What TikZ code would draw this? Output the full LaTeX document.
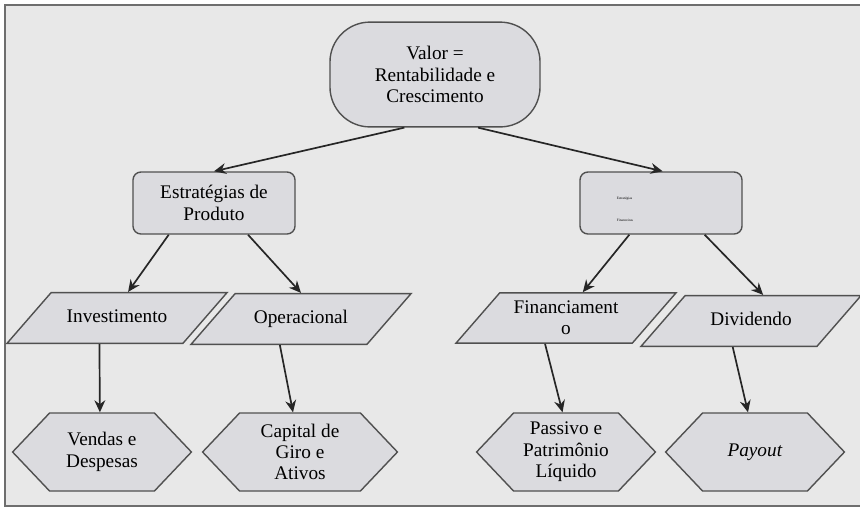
\documentclass[tikz,border=0pt]{standalone}
\usepackage{fontspec}
\setmainfont{Liberation Serif}
\usetikzlibrary{shapes.geometric,shapes.symbols,arrows.meta}

\definecolor{framebg}{HTML}{E8E8E8}
\definecolor{boxfill}{HTML}{DBDBDF}
\definecolor{boxline}{HTML}{505050}
\definecolor{frameline}{HTML}{6E6E6E}

\tikzset{
  boxtext/.style={font=\fontsize{13.7}{15.2}\selectfont, align=center},
  goal/.style={boxtext, draw=boxline, fill=boxfill, line width=1pt, rounded corners=1cm,
    minimum width=5.25cm, minimum height=2.62cm},
  strat/.style={boxtext, draw=boxline, fill=boxfill, line width=1pt, rounded corners=0.2cm,
    minimum width=4.05cm, minimum height=1.55cm},
  areabase/.style={boxtext, trapezium, trapezium left angle=49, trapezium right angle=131,
    trapezium stretches body, draw=boxline, fill=boxfill, line width=1pt,
    minimum width=5.5cm, inner xsep=0pt},
  area/.style={areabase, text height=9.6pt, text depth=3pt, inner ysep=11.75pt},
  driver/.style={boxtext, signal, signal to=west and east, signal pointer angle=93,
    draw=boxline, fill=boxfill, line width=1pt, minimum width=4.47cm, minimum height=1.95cm,
    inner sep=0pt},
  arr/.style={-{Stealth[length=0.3cm,width=0.27cm]}, line width=1.2pt, black!85}
}

\begin{document}
\begin{tikzpicture}[x=0.025cm, y=-0.025cm]
    \useasboundingbox (0,0) rectangle (860,509);

    % Background and frame
    \fill[framebg] (5,5) rectangle (860,506);
    \draw[frameline, line width=1.5pt] (860,5) -- (5,5) -- (5,506) -- (860,506);

    % Draw the boxes
    \node[goal] (valor) at (435,74.5) {Valor =\\Rentabilidade e\\Crescimento};
    \node[strat] (prod) at (214,203) {Estratégias de\\Produto};
    \node[strat] (fin) at (661,203) {};
    \node[font=\fontsize{2.5}{15.6}\selectfont, align=left] (finlbl) at (625,209) {Estratégias\\Financeiras};

    % Parallelograms
    \node[area] (inv) at (117,318) {Investimento};
    \node[area] (ope) at (301,319) {Operacional};
    \node[areabase, inner ysep=5.7pt] (finan) at (566,318) {Financiament\\o};
    \node[area] (div) at (751,321) {Dividendo};

    % Hexagons
    \node[driver] (vend) at (102,452) {Vendas e\\Despesas};
    \node[driver, minimum width=4.87cm] (cap) at (300,452) {Capital de\\Giro e\\Ativos};
    \node[driver] (pass) at (566,452) {Passivo e\\Patrimônio\\Líquido};
    \node[driver] (pay) at (755,452) {\textit{Payout}};

    % Arrows between boxes
    \draw[arr] (valor.240) -- (prod.north);
    \draw[arr] (valor.309) -- (fin.87);
    \draw[arr] (prod.215) -- (inv.67);
    \draw[arr] (prod.317) -- (ope.north);
    \draw[arr] (fin.225) -- (finan.57);
    \draw[arr] (fin.324) -- (div.65);
    \draw[arr] (inv.236) -- (vend.93);
    \draw[arr] (ope.231) -- (cap.100);
    \draw[arr] (finan.231) -- (pass.95);
    \draw[arr] (div.235) -- (pay.100);
\end{tikzpicture}
\end{document}
